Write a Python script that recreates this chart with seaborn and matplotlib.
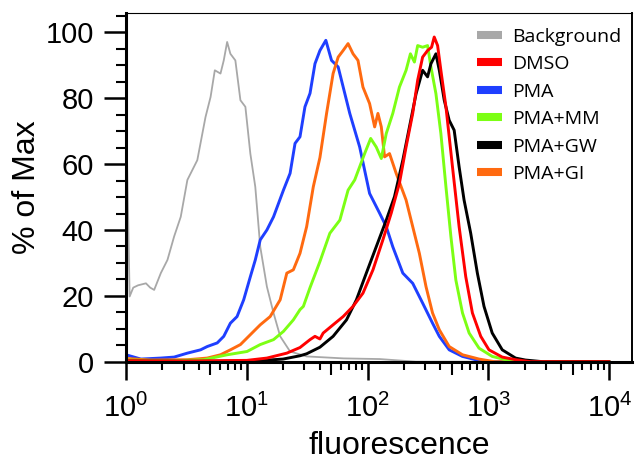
import numpy as np
import pandas as pd
import matplotlib
matplotlib.use("Agg")
import matplotlib.pyplot as plt
from matplotlib import ticker
from matplotlib.lines import Line2D
import seaborn as sns

# Histogram traces: position on the fluorescence axis (log10 decades) and % of max
bg_log = [0.0, 0.03, 0.06, 0.10, 0.165, 0.20, 0.233, 0.288, 0.343, 0.398, 0.453, 0.508,
          0.59, 0.658, 0.70, 0.735, 0.782, 0.809, 0.837, 0.864, 0.905, 0.947, 0.988,
          1.029, 1.07, 1.111, 1.166, 1.221, 1.276, 1.358, 1.495, 1.8, 2.1, 2.4, 4.0]
bg_pct = [78, 19.8, 22.5, 23.2, 23.8, 22.5, 21.8, 26.9, 30.9, 38, 44, 55.2,
          61.2, 74.3, 80.4, 88.5, 87.5, 91.5, 97.1, 93.5, 91.5, 79.4, 77.4,
          63.2, 53.1, 34.9, 22.8, 14.8, 7.7, 3.1, 1.6, 1.0, 0.8, 0.0, 0.0]

pma_log = [0.0, 0.123, 0.288, 0.398, 0.508, 0.617, 0.672, 0.755, 0.809, 0.864, 0.919,
           0.974, 1.029, 1.07, 1.111, 1.166, 1.221, 1.303, 1.358, 1.399, 1.44, 1.481,
           1.523, 1.564, 1.605, 1.654, 1.701, 1.756, 1.852, 1.934, 2.016, 2.099, 2.154,
           2.208, 2.291, 2.373, 2.455, 2.537, 2.593, 2.675, 2.785, 2.894, 3.0, 4.0]
pma_pct = [2.1, 0.8, 1.1, 1.4, 2.6, 3.6, 4.6, 5.7, 7.7, 11.7, 13.7,
           18.8, 25.8, 30.9, 37, 40, 44, 52.1, 57.2, 66.3, 68.3, 77.4,
           81.5, 90.5, 94.5, 97.6, 91.5, 89.5, 75.4, 65.2, 51.1, 45.1, 41,
           34.9, 26.9, 23.8, 17.8, 11.7, 7.7, 3.6, 1.6, 0.6, 0, 0]

gi_log = [0.0, 0.2, 0.508, 0.672, 0.782, 0.864, 0.947, 1.029, 1.111, 1.193, 1.276,
          1.331, 1.385, 1.44, 1.495, 1.55, 1.605, 1.66, 1.714, 1.756, 1.797, 1.838,
          1.879, 1.92, 1.961, 2.016, 2.058, 2.085, 2.113, 2.14, 2.181, 2.236, 2.318,
          2.373, 2.428, 2.483, 2.537, 2.593, 2.675, 2.785, 2.922, 3.05, 4.0]
gi_pct = [1.0, 0.5, 0.6, 1.1, 2.1, 3.6, 5.2, 8.2, 11.2, 13.7, 18.8,
          26.9, 27.9, 32.9, 41, 53.1, 62, 75.4, 87.5, 92.5, 94.5, 96.6,
          93.5, 91.5, 83.4, 78.4, 71.3, 75.4, 71.3, 62.2, 63.2, 57.2, 49.1,
          41, 32.9, 22.8, 14.8, 9.7, 4.6, 2.1, 0.8, 0, 0]

mm_log = [0.0, 0.4, 0.645, 0.837, 1.002, 1.111, 1.221, 1.303, 1.385, 1.44, 1.468,
          1.523, 1.605, 1.687, 1.77, 1.838, 1.893, 1.934, 1.975, 2.025, 2.071, 2.113,
          2.154, 2.208, 2.263, 2.318, 2.354, 2.387, 2.414, 2.455, 2.496, 2.524, 2.565,
          2.606, 2.648, 2.689, 2.73, 2.785, 2.84, 2.922, 3.031, 3.142, 3.25, 4.0]
mm_pct = [0.5, 0.3, 0.6, 2.1, 3.1, 5.2, 6.7, 9.2, 12.7, 15.8, 16.8,
          22.5, 30.4, 39, 43, 52.1, 55.2, 59.2, 63.2, 67.8, 65.2, 61.7,
          69.3, 75.4, 83.4, 88.5, 93.5, 91, 96, 95.5, 96, 89.5, 81.4,
          69.3, 53.1, 38, 24.8, 14.8, 8.7, 4.1, 1.6, 0.6, 0, 0]

dmso_log = [0.0, 0.5, 1.0, 1.166, 1.331, 1.44, 1.523, 1.564, 1.605, 1.632, 1.714,
            1.797, 1.879, 1.961, 2.044, 2.126, 2.195, 2.263, 2.318, 2.373, 2.414,
            2.455, 2.496, 2.529, 2.551, 2.579, 2.606, 2.648, 2.702, 2.757, 2.812,
            2.867, 2.936, 3.004, 3.114, 3.224, 3.35, 4.0]
dmso_pct = [0.3, 0.2, 0.4, 1.1, 2.6, 4.3, 6.7, 7.7, 6.9, 8.7, 11.2,
            13.7, 16.8, 20.8, 27.9, 37, 45.1, 54.2, 65.2, 75.4, 85.5,
            92.5, 94.5, 95.5, 98.6, 96, 88.5, 77.4, 59.2, 41, 25.8,
            14.8, 7.7, 3.6, 1.4, 0.6, 0, 0]

gw_log = [0.0, 0.6, 1.1, 1.3, 1.44, 1.495, 1.605, 1.714, 1.825, 1.907, 1.989, 2.071,
          2.154, 2.222, 2.291, 2.346, 2.401, 2.455, 2.496, 2.524, 2.565, 2.593, 2.634,
          2.675, 2.716, 2.757, 2.798, 2.853, 2.908, 2.963, 3.031, 3.114, 3.224, 3.306,
          3.45, 4.0]
gw_pct = [0.2, 0.1, 0.3, 0.8, 1.8, 2.4, 4.4, 7.7, 12.7, 18.8, 26.9, 34.9,
          43, 50.1, 61.2, 71.3, 81.4, 88.5, 86.5, 90.5, 93.5, 88.5, 79.4,
          73.3, 70.3, 59.2, 49.1, 39, 26.9, 16.8, 8.7, 3.6, 1.1, 0.5,
          0, 0]

legend_order = ["Background", "DMSO", "PMA", "PMA+MM", "PMA+GW", "PMA+GI"]
draw_order = ["Background", "PMA", "PMA+GI", "PMA+MM", "PMA+GW", "DMSO"]
colors = {
    "Background": "#a8a8a8",
    "DMSO": "#ff0000",
    "PMA": "#1f3fff",
    "PMA+MM": "#7cff14",
    "PMA+GW": "#000000",
    "PMA+GI": "#ff6a10",
}

traces = {
    "Background": (bg_log, bg_pct),
    "DMSO": (dmso_log, dmso_pct),
    "PMA": (pma_log, pma_pct),
    "PMA+MM": (mm_log, mm_pct),
    "PMA+GW": (gw_log, gw_pct),
    "PMA+GI": (gi_log, gi_pct),
}

df = pd.concat(
    [pd.DataFrame({"sample": name,
                   "fluorescence": np.power(10.0, np.asarray(lg)),
                   "pct": pct})
     for name, (lg, pct) in traces.items()],
    ignore_index=True,
)

sns.set_theme(style="ticks")
plt.rcParams.update({
    "font.family": ["Liberation Sans", "DejaVu Sans"],
    "mathtext.fontset": "custom",
    "mathtext.rm": "Liberation Sans",
    "mathtext.it": "Liberation Sans:italic",
    "mathtext.bf": "Liberation Sans:bold",
    "axes.edgecolor": "black",
    "xtick.color": "black",
    "ytick.color": "black",
    "text.color": "black",
    "axes.labelcolor": "black",
})

fig = plt.figure(figsize=(6.39, 4.67), dpi=100)
ax = fig.add_axes([0.1972, 0.2255, 0.7923, 0.746])

for name in draw_order:
    sub = df[df["sample"] == name]
    sns.lineplot(data=sub, x="fluorescence", y="pct", color=colors[name],
                 linewidth=1.3 if name == "Background" else 2.1,
                 estimator=None, sort=False, legend=False, ax=ax)

ax.set_xscale("log")
ax.set_xlim(1, 15500)
ax.set_ylim(0, 105.8)

ax.set_xticks([1, 10, 100, 1000, 10000])
ax.xaxis.set_major_formatter(ticker.LogFormatterSciNotation(base=10))
ax.xaxis.set_minor_locator(ticker.LogLocator(base=10, subs=[2, 3, 4, 6, 7, 8, 9], numticks=50))
ax.xaxis.set_minor_formatter(ticker.NullFormatter())
ax.set_yticks([0, 20, 40, 60, 80, 100])
ax.yaxis.set_minor_locator(ticker.MultipleLocator(5))

ax.tick_params(axis="x", which="major", length=13, width=1.8, labelsize=21, pad=10)
ax.tick_params(axis="x", which="minor", length=5.8, width=1.5)
ax.tick_params(axis="y", which="major", length=16, width=1.8, labelsize=21, pad=7)
ax.tick_params(axis="y", which="minor", length=7.2, width=1.5)

# mid-decade (5x) ticks drawn a little longer than the other minor ticks
sec = ax.secondary_xaxis("bottom")
sec.set_xticks([5, 50, 500, 5000])
sec.xaxis.set_minor_locator(ticker.NullLocator())
sec.tick_params(axis="x", which="major", length=9.4, width=1.5, labelbottom=False)
sec.spines["bottom"].set_visible(False)

ax.spines["left"].set_linewidth(2.2)
ax.spines["bottom"].set_linewidth(2.2)
ax.spines["top"].set_linewidth(0.8)
ax.spines["right"].set_linewidth(1.4)

ax.set_xlabel("fluorescence", fontsize=23)
ax.set_ylabel("% of Max", fontsize=23, labelpad=3)
ax.xaxis.set_label_coords(0.54, -0.2)

handles = [Line2D([0], [0], color=colors[n], lw=5.8, solid_capstyle="butt") for n in legend_order]
ax.legend(handles, legend_order, loc="upper left", bbox_to_anchor=(0.694, 0.959),
          frameon=False, prop={"family": "Open Sans", "size": 14},
          handlelength=1.26, handletextpad=0.53, labelspacing=0.49, borderpad=0,
          borderaxespad=0)

fig.savefig("out.png", dpi=100)
